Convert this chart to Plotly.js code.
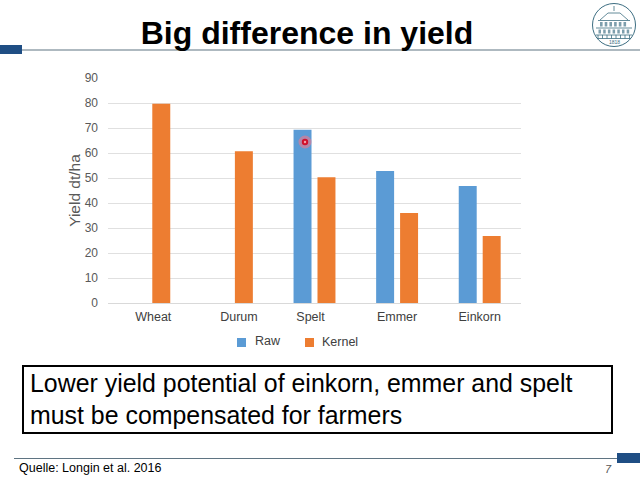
<!DOCTYPE html>
<html><head><meta charset="utf-8">
<script src="https://cdn.plot.ly/plotly-3.0.1.min.js"></script>
<style>html,body{margin:0;padding:0;background:#fff}</style></head>
<body><div id="chart" style="width:640px;height:480px"></div>
<script>
const categories = ["Wheat","Durum","Spelt","Emmer","Einkorn"];
const rawYield = [null,null,69.3,52.8,46.8];
const kernelYield = [79.7,60.7,50.3,36,26.8];
const yTicks = [0,10,20,30,40,50,60,70,80,90];
const labelPositions = [0.036,1.073,1.94,2.988,3.988];
const rawColor='#5b9bd5', kernelColor='#ed7d31';
const W=640,H=480,L=108,R=521,T=78,B=303;
const FONT='Liberation Sans, Arial, sans-serif';
const px=x=>(x-L)/(R-L), py=y=>(B-y)/(B-T);
const rect=(x0,y0,x1,y1,o)=>Object.assign({type:'rect',xref:'paper',yref:'paper',x0:px(x0),x1:px(x1),y0:py(y1),y1:py(y0),layer:'above',line:{width:0}},o);
const line=(x0,y0,x1,y1,c,w)=>({type:'line',xref:'paper',yref:'paper',x0:px(x0),x1:px(x1),y0:py(y0),y1:py(y1),layer:'above',line:{color:c,width:w}});
const circ=(cx,cy,r,o)=>Object.assign({type:'circle',xref:'paper',yref:'paper',x0:px(cx-r),x1:px(cx+r),y0:py(cy+r),y1:py(cy-r),layer:'above',line:{width:0}},o);
const note=(x,y,text,size,color)=>({xref:'paper',yref:'paper',x:px(x),y:py(y),text:text,showarrow:false,xanchor:'left',yanchor:'middle',align:'left',font:{family:FONT,size:size,color:color||'#000'}});
const logo='#3d6e82';
const shapes=[
 line(22,50,640,50,'#5f7482',1.2),
 rect(0,45,22,54,{fillcolor:'#1f4e84'}),
 line(14,458.5,617,458.5,'#5f7482',1.2),
 rect(617,453,640,463,{fillcolor:'#1f4e84'}),
 rect(23,366,612,433,{line:{color:'#000',width:2},fillcolor:'rgba(0,0,0,0)'}),
 rect(237,338,246,347,{fillcolor:rawColor}),
 rect(305,338,314,347,{fillcolor:kernelColor}),
 circ(305,142,6.5,{fillcolor:'rgba(240,120,140,0.6)'}),
 circ(305,142,3.2,{fillcolor:'#d0102c'}),
 circ(305,142,1.2,{fillcolor:'#f3a0a8'}),
 circ(614,25,21.5,{line:{color:logo,width:1},fillcolor:'#fff'}),
 line(614,6,614,11,logo,0.8),
 line(600,20,608,13,logo,0.8), line(628,20,620,13,logo,0.8), line(608,13,620,13,logo,0.8),
 line(598,20.5,630,20.5,logo,0.8),
 line(596,28,632,28,logo,0.8),
 line(596,35,632,35,logo,0.8),
 line(597,38.5,631,38.5,logo,0.8)
];
for(let i=0;i<6;i++){ shapes.push(rect(600+i*4.7,22,602.6+i*4.7,26.5,{fillcolor:'#7d9eac'})); }
for(let i=0;i<7;i++){ shapes.push(rect(598.5+i*4.7,29.5,601+i*4.7,33.5,{fillcolor:'#7d9eac'})); }
for(let i=0;i<8;i++){ shapes.push(line(598+i*4.5,35,598+i*4.5,38.5,logo,0.8)); }
const data=[
 {type:'bar',name:'Raw',x:categories,y:rawYield,marker:{color:rawColor}},
 {type:'bar',name:'Kernel',x:categories,y:kernelYield,marker:{color:kernelColor}}
];
const layout={
 width:W,height:H,paper_bgcolor:'#fff',plot_bgcolor:'#fff',showlegend:false,
 margin:{l:L,r:W-R,t:T,b:H-B,pad:0,autoexpand:false},
 font:{family:FONT,color:'#595959'},
 title:{text:'<b>Big difference in yield</b>',x:307/W,xanchor:'center',y:1-33/H,yanchor:'middle',font:{family:FONT,size:32,color:'#000'}},
 barmode:'group',bargap:0.42,bargroupgap:0.25,
 xaxis:{type:'category',categories:categories,tickmode:'array',tickvals:labelPositions.map(v=>v+0.012),ticktext:categories,showgrid:false,showline:true,linecolor:'#d9d9d9',linewidth:1,ticks:'',ticklabelstandoff:2,tickfont:{size:12.5,color:'#404040'}},
 yaxis:{range:[0,90],tickvals:yTicks,gridcolor:'#e0e0e0',gridwidth:1,zeroline:false,ticks:'',tickfont:{size:12,color:'#595959'},ticklabelstandoff:9,
   title:{text:'Yield dt/ha',font:{size:15.5,color:'#595959'},standoff:0}},
 shapes:shapes,
 annotations:[
  note(28,399,'Lower yield potential of einkorn, emmer and spelt<br>must be compensated for farmers',24.9),
  note(253,341,'Raw',12.5,'#404040'),
  note(320,342,'Kernel',12.5,'#404040'),
  note(17,468,'Quelle: Longin et al. 2016',12.5),
  note(603,469,'<i>7</i>',11,'#555'),
  Object.assign(note(614,42,'1818',5,logo),{xanchor:'center'})
 ]
};
Plotly.newPlot('chart',data,layout,{displayModeBar:false,staticPlot:true});
</script></body></html>
